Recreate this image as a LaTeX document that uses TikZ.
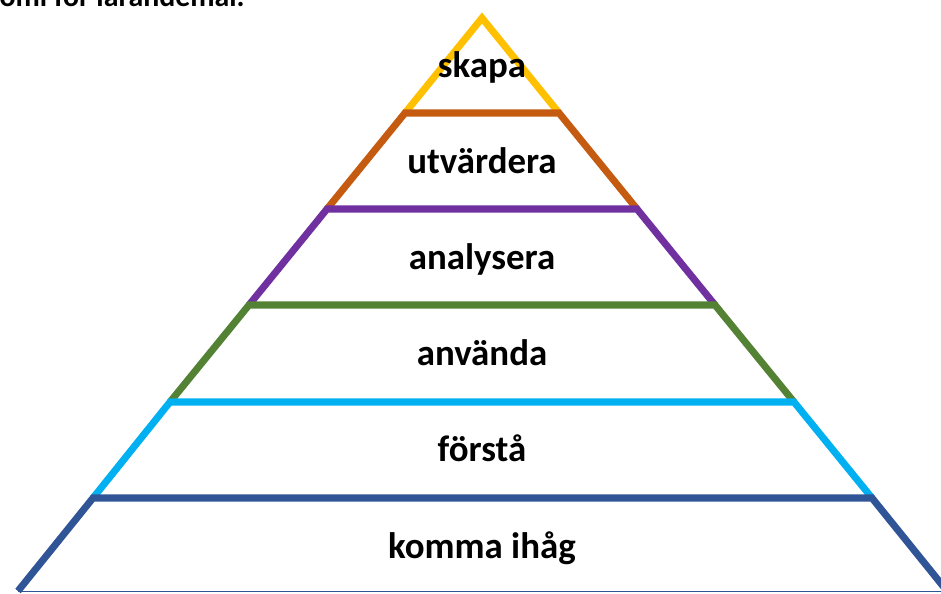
\documentclass[tikz,border=0pt]{standalone}
\usepackage{fontspec}
\setmainfont{Carlito}
\usepackage{tikz}
\usetikzlibrary{positioning}
\definecolor{skapacolor}{HTML}{FFC000}
\definecolor{utvcolor}{HTML}{C55A11}
\definecolor{analyscolor}{HTML}{7030A0}
\definecolor{anvcolor}{HTML}{548235}
\definecolor{forstcolor}{HTML}{00B0F0}
\definecolor{minnecolor}{HTML}{2F5597}

\begin{document}
\begin{tikzpicture}[
    x=0.02cm, y=-0.02cm,
    tier/.style={line width=4pt, line join=miter},
    level/.style={font=\fontsize{21}{25}\selectfont\bfseries, anchor=base, inner sep=0pt},
    caption/.style={font=\fontsize{17}{20}\selectfont\bfseries, anchor=base east, inner sep=0pt}
]
    \useasboundingbox (0,0) rectangle (941,593);
    \clip (0,0) rectangle (941,593);

    % Caption (cut off at the top)
    \node[caption] (title) at (245,6) {Taxonomi för lärandemål.};

    % Tiers, top to bottom
    \draw[tier, skapacolor] (405,113) -- (482,18) -- (559,113);
    \draw[tier, utvcolor] (327,209) -- (405,113) -- (559,113) -- (637,209);
    \draw[tier, analyscolor] (249,305) -- (327,209) -- (637,209) -- (715,305);
    \draw[tier, anvcolor] (170,402) -- (249,305) -- (715,305) -- (794,402);
    \draw[tier, forstcolor] (93,498) -- (170,402) -- (794,402) -- (872,498);
    \draw[tier, minnecolor] (18,591) -- (93,498) -- (872,498) -- (947,591);
    \draw[minnecolor, thin] (18,591.5) -- (947,591.5);

    % Labels
    \node[level] (skapa) at (482,77) {skapa};
    \node[level] (utvardera) at (482,173) {utvärdera};
    \node[level] (analysera) at (482,269) {analysera};
    \node[level] (anvanda) at (482,365) {använda};
    \node[level] (forsta) at (482,461) {förstå};
    \node[level] (minnas) at (482,558) {komma ihåg};

\end{tikzpicture}
\end{document}
